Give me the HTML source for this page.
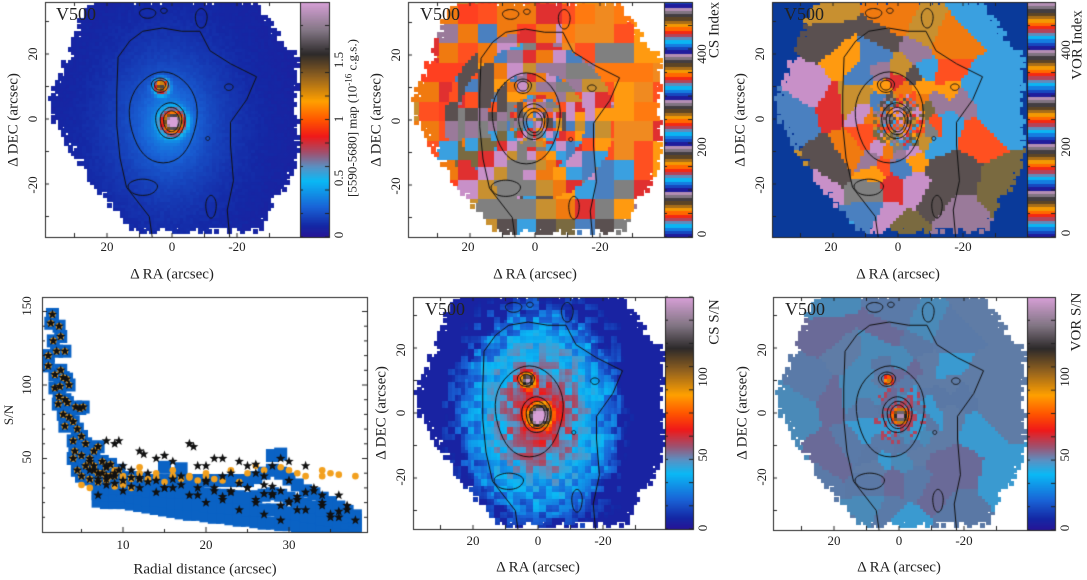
<!DOCTYPE html>
<html><head><meta charset="utf-8">
<style>
body{margin:0;background:#fff;width:1087px;height:580px;overflow:hidden;position:relative;font-family:"Liberation Serif",serif;color:#222}
canvas{position:absolute;left:0;top:0}
.t{position:absolute;font-size:13px;white-space:nowrap;transform:translate(-50%,-50%)}
.r{position:absolute;font-size:13px;white-space:nowrap;transform:translate(-50%,-50%) rotate(-90deg)}
.ax{font-size:15px}
.v5{position:absolute;font-size:18px}
sup{font-size:9px}
</style></head><body>
<canvas id="c" width="1087" height="580"></canvas>

<div class="v5" style="left:56px;top:4px">V500</div>
<div class="t" style="left:107px;top:247px">20</div>
<div class="t" style="left:172px;top:247px">0</div>
<div class="t" style="left:237px;top:247px">-20</div>
<div class="t ax" style="left:172px;top:275px">Δ RA (arcsec)</div>
<div class="r" style="left:33px;top:54px">20</div>
<div class="r" style="left:33px;top:119px">0</div>
<div class="r" style="left:33px;top:185px">-20</div>
<div class="r ax" style="left:14px;top:120px">Δ DEC (arcsec)</div>
<div class="r" style="left:339px;top:235px">0</div>
<div class="r" style="left:339px;top:178px">0.5</div>
<div class="r" style="left:339px;top:119px">1</div>
<div class="r" style="left:339px;top:60px">1.5</div>
<div class="r" style="left:352px;top:118px">[5590-5680] map (10<sup>-16</sup> c.g.s.)</div>

<div class="v5" style="left:420px;top:4px">V500</div>
<div class="t" style="left:468px;top:247px">20</div>
<div class="t" style="left:535px;top:247px">0</div>
<div class="t" style="left:600px;top:247px">-20</div>
<div class="t ax" style="left:535px;top:275px">Δ RA (arcsec)</div>
<div class="r" style="left:396px;top:55px">20</div>
<div class="r" style="left:396px;top:121px">0</div>
<div class="r" style="left:396px;top:186px">-20</div>
<div class="r ax" style="left:377px;top:120px">Δ DEC (arcsec)</div>
<div class="r" style="left:702px;top:234px">0</div>
<div class="r" style="left:702px;top:147px">200</div>
<div class="r" style="left:702px;top:54px">400</div>
<div class="r ax" style="left:715px;top:30px">CS Index</div>

<div class="v5" style="left:784px;top:4px">V500</div>
<div class="t" style="left:831px;top:247px">20</div>
<div class="t" style="left:898px;top:247px">0</div>
<div class="t" style="left:963px;top:247px">-20</div>
<div class="t ax" style="left:898px;top:275px">Δ RA (arcsec)</div>
<div class="r" style="left:760px;top:54px">20</div>
<div class="r" style="left:760px;top:119px">0</div>
<div class="r" style="left:760px;top:185px">-20</div>
<div class="r ax" style="left:741px;top:120px">Δ DEC (arcsec)</div>
<div class="r" style="left:1066px;top:233px">0</div>
<div class="r" style="left:1066px;top:147px">200</div>
<div class="r" style="left:1066px;top:50px">400</div>
<div class="r ax" style="left:1078px;top:45px">VOR Index</div>

<div class="t" style="left:123px;top:545px">10</div>
<div class="t" style="left:206px;top:545px">20</div>
<div class="t" style="left:289px;top:545px">30</div>
<div class="t ax" style="left:205px;top:570px">Radial distance (arcsec)</div>
<div class="r" style="left:27px;top:306px">150</div>
<div class="r" style="left:27px;top:385px">100</div>
<div class="r" style="left:27px;top:457px">50</div>
<div class="r" style="left:9px;top:415px">S/N</div>

<div class="v5" style="left:425px;top:299px">V500</div>
<div class="t" style="left:473px;top:541px">20</div>
<div class="t" style="left:538px;top:541px">0</div>
<div class="t" style="left:603px;top:541px">-20</div>
<div class="t ax" style="left:538px;top:568px">Δ RA (arcsec)</div>
<div class="r" style="left:401px;top:350px">20</div>
<div class="r" style="left:401px;top:413px">0</div>
<div class="r" style="left:401px;top:477px">-20</div>
<div class="r ax" style="left:382px;top:413px">Δ DEC (arcsec)</div>
<div class="r" style="left:703px;top:528px">0</div>
<div class="r" style="left:703px;top:455px">50</div>
<div class="r" style="left:703px;top:377px">100</div>
<div class="r ax" style="left:715px;top:322px">CS S/N</div>

<div class="v5" style="left:785px;top:299px">V500</div>
<div class="t" style="left:834px;top:541px">20</div>
<div class="t" style="left:899px;top:541px">0</div>
<div class="t" style="left:964px;top:541px">-20</div>
<div class="t ax" style="left:899px;top:568px">Δ RA (arcsec)</div>
<div class="r" style="left:762px;top:350px">20</div>
<div class="r" style="left:762px;top:413px">0</div>
<div class="r" style="left:762px;top:477px">-20</div>
<div class="r ax" style="left:743px;top:413px">Δ DEC (arcsec)</div>
<div class="r" style="left:1065px;top:528px">0</div>
<div class="r" style="left:1065px;top:455px">50</div>
<div class="r" style="left:1065px;top:377px">100</div>
<div class="r ax" style="left:1077px;top:322px">VOR S/N</div>

<script>
const earlyR=[1,1,1.3,1.5,1.6,1.8,1.8,2,2.3,2.5,2.5,2.4,2.3,2.2,3,2.8,3.2,3.5,3,3.3,2.8,3.5,3,4,4.3,4.8,5.2,4,4.5,5,5.5,4,4.5,5.5,6,6.5,7,6.5,7.5,8,8.5,9,4.2,5,6,7,8,5,6,7,8,9,10,11,12,6.5,7.5,8.5,9.5];
const earlySN=[113,120,142,148,130,107,98,123,140,133,110,99,92,87,123,105,104,100,90,88,80,78,72,75,85,84,85,62,70,65,60,50,42,45,50,55,58,45,48,44,46,40,55,52,48,40,38,38,36,34,36,38,35,37,36,42,40,38,42];
const blueR=[7,7,7,7,8,8,8,8,9,9,9,9,10,10,10,10,11,11,11,11,12,12,12,12,13,13,13,13,14,14,14,14,15,15,15,15,16,16,16,16,17,17,17,17,18,18,18,18,19,19,19,19,20,20,20,20,21,21,21,21,22,22,22,22,23,23,23,23,24,24,24,24,25,25,25,25,26,26,26,26,27,27,27,27,28,28,28,28,29,29,29,29,30,30,30,30,31,31,31,31,32,32,32,32,33,33,33,33,34,34,34,34,35,35,35,35,36,36,36,36,37,37,37,37,38,38,38,38,28,29,17,15];
const blueSN=[21,26,30,33,20,25,29,34,20,25,30,35,20,25,30,35,19,24,29,35,18,23,29,35,17,22,28,35,16,22,28,35,15,21,28,35,14,20,27,35,13,20,27,35,12,19,27,35,12,19,27,35,11,18,26,35,10,17,25,35,10,17,25,35,9,16,24,35,8,16,24,35,8,15,23,35,7,15,24,37,6,15,25,40,6,15,26,42,5,14,25,40,5,13,23,36,4,12,21,32,4,11,19,28,4,10,17,26,3,9,15,23,3,8,14,20,3,7,12,17,3,6,10,14,3,5,8,11,52,53,43,44];
const orangeR=[10,11,12,13,14,15,16,17,18,19,20,21,22,24,26,27,29,30,31,32,34,34,35,36,38,6,7,8,9,10,12,14,16,18,20,23,25,5,6,7,8,9,10,11,13];
const orangeSN=[38,36,40,35,37,34,38,36,37,35,38,36,35,34,45,42,44,42,40,38,42,38,40,39,38,36,40,35,42,32,44,40,42,38,40,42,40,32,30,34,38,31,33,30,36];
const starR=[7,8,9,9.5,12,12.5,14,15,16,18,18.5,19,20,21,22,23,24,25,26,27,28,29,30,32,10,11,13,14,15,17,19,20,21,22,23,25,26,27,28,29,30,31,32,33,34,35,36,37,38,8,12,16,20,24,28,33,35,37,22,26,30,34,27,29,31,36,9,11,13,15,17,19,21,23,25,27,29,31,10,14,18,22,26,30,34,12,16,20,24,28,32,36,6,7,8];
const starSN=[25,62,60,62,55,53,50,52,48,60,58,45,45,50,50,40,48,45,46,38,45,50,48,45,45,42,40,35,30,38,25,35,30,22,28,30,20,32,26,18,35,22,15,30,20,12,25,15,8,45,30,30,20,15,25,28,10,18,38,40,20,25,12,8,15,10,33,31,34,30,32,30,28,27,30,26,28,24,28,27,25,24,22,21,18,37,36,34,33,31,27,14,42,36,32];

const C=document.getElementById('c').getContext('2d');
function h(i,j,s){let n=Math.sin(i*127.1+j*311.7+s*74.7)*43758.5453;return n-Math.floor(n);}
function g(d,s){return Math.exp(-(d*d)/(s*s));}
const stops=[[0,[40,20,150]],[0.05,[20,40,165]],[0.13,[25,100,215]],[0.24,[10,185,245]],[0.3,[90,145,195]],[0.36,[160,80,110]],[0.43,[240,25,25]],[0.5,[255,85,0]],[0.58,[255,160,0]],[0.68,[150,100,30]],[0.78,[45,42,42]],[0.88,[130,118,132]],[1,[215,160,215]]];
function cmap(t){t=Math.max(0,Math.min(1,t));for(let i=1;i<stops.length;i++){if(t<=stops[i][0]){const a=stops[i-1],b=stops[i],f=(t-a[0])/(b[0]-a[0]);return 'rgb('+a[1].map((v,k)=>Math.round(v+(b[1][k]-v)*f)).join(',')+')';}}return 'rgb(215,160,215)';}
const pal=['#f07a10','#9a7a9a','#5a5050','#c89030','#3aa0e0','#ff5020','#c890c8','#808080','#e03030','#4a80c0','#ff9a10','#7a6a40'];
const poly=[[25,36],[-25.5,36],[-38.5,18],[-38.5,-15.6],[-26,-34.5],[11.4,-34.5],[24,-20],[36.6,1.2],[36.6,5.8]];
function inside(x,y){let c=false;for(let i=0,j=poly.length-1;i<poly.length;j=i++){const pi=poly[i],pj=poly[j];if(((pi[1]>y)!=(pj[1]>y))&&(x<(pj[0]-pi[0])*(y-pi[1])/(pj[1]-pi[1])+pi[0]))c=!c;}return c;}
function inMask(ra,de){return inside(ra+(h(ra,de,9)-0.5)*3,de+(h(de,ra,8)-0.5)*3);}
const S=3.25;
const panels=[
 {k:1,box:[45,2,300,237],x0:172,y0:119,cb:[300,2,329,237]},
 {k:2,box:[408,2,664,237],x0:535,y0:120,cb:[664,2,692,237]},
 {k:3,box:[772,2,1027,237],x0:898,y0:119,cb:[1027,2,1055,237]},
 {k:5,box:[413,297,665,529],x0:538,y0:413,cb:[665,297,693,529]},
 {k:6,box:[773,297,1027,530],x0:899,y0:413,cb:[1027,297,1055,530]}];
const seeds=[];const rings=[2,4.5,7,10,14,19,25,32,40],cnt=[5,9,12,14,14,12,11,10,9];
rings.forEach((r,i)=>{for(let j=0;j<cnt[i];j++){const a=(j+h(i,j,3)*0.6)/cnt[i]*6.283;const rr=r*(0.85+h(j,i,4)*0.3);seeds.push([rr*Math.cos(a)*0.85,rr*Math.sin(a)*1.05,Math.floor(h(i,j,5)*pal.length)]);}});
function nearest(ra,de){let b=1e9,c=0;for(const s of seeds){const d=(ra-s[0])*(ra-s[0])+(de-s[1])*(de-s[1]);if(d<b){b=d;c=s[2];}}return c;}
function val1(ra,de){const d=Math.hypot(ra-1.5,(de+1)/1.3),dn=Math.hypot(ra,de+0.5),ds=Math.hypot(ra-3.7,de-10.4);return 0.05+0.3*Math.exp(-d/9)+0.12*Math.exp(-d/25)+(h(ra,de,1)-0.5)*0.02+2.0*g(dn,3)+1.4*g(ds,2);}
function color(k,ra,de){
 const dn=Math.hypot(ra,de+0.5),ds=Math.hypot(ra-3.7,de-10.4),r=Math.hypot(ra,de);
 if(k==1)return cmap(val1(ra,de)/2);
 if(k==2){const cs=r<8?1.5:r<15?3:r<24?4.5:6;const i=Math.floor(ra/cs),j=Math.floor(de/cs);
   if(r>24&&ra<-8&&de>-12&&h(i,j,6)<0.85)return ['#ff9a10','#ff7a10','#ff5020','#f08a20'][Math.floor(h(i,j,7)*4)];
   if(r>28&&ra>0&&de>-22&&h(i,j,6)<0.75)return ['#ff5020','#e03030','#ff4020','#f07a10'][Math.floor(h(i,j,7)*4)];
   return pal[Math.floor(h(i,j,2)*pal.length)];}
 if(k==3){if(r<8&&(Math.floor(ra)+Math.floor(de))%2==0)return pal[Math.floor(h(Math.floor(ra),Math.floor(de),2)*pal.length)];return pal[nearest(ra,de)];}
 if(k==5){const i=Math.floor(ra/2),j=Math.floor(de/2);const e=Math.hypot(ra/0.75,de);let sn=70-e*1.55+(h(i,j,3)-0.5)*22;if(e>32)sn-=6;if(ra<-25)sn-=8;
   sn+=130*g(dn,3.2)+90*g(ds,2.2);return cmap(Math.max(6,sn)/155);}
 if(k==6){let sn=150*g(dn,3.2)+100*g(ds,2.2);
   if(dn<9&&h(Math.floor(ra),Math.floor(de),4)<0.5-dn/25)sn=Math.max(sn,58);
   if(sn>45)return cmap(sn/155);
   return ['#5a7aa8','#5a78a5','#6a6a98','#4a8ab8','#5f7ca6','#3a9ad0'][nearest(ra,de)%6];}
}
function drawMap(p){
 const [x1,y1,x2,y2]=p.box;C.save();C.beginPath();C.rect(x1,y1,x2-x1,y2-y1);C.clip();
 if(p.k==3){C.fillStyle='#0a3a9a';C.fillRect(x1,y1,x2-x1,y2-y1);}
 for(let ra=-40;ra<=40;ra++)for(let de=-38;de<=38;de++){
  if(!inMask(ra,de))continue;
  C.fillStyle=color(p.k,ra+0.5,de+0.5);
  const px=p.x0-(ra+1)*S,py=p.y0-(de+1)*S;C.fillRect(Math.floor(px),Math.floor(py),Math.ceil(S)+1,Math.ceil(S)+1);}
 const T=(a)=>[p.x0-a[0]*S,p.y0-a[1]*S];
 const line=(pts,close)=>{C.beginPath();pts.forEach((q,i)=>{const xy=T(q);i?C.lineTo(xy[0],xy[1]):C.moveTo(xy[0],xy[1]);});if(close)C.closePath();C.lineWidth=1;C.strokeStyle='#111';C.stroke();};
 line([[6,-37],[7,-30],[14,-21],[16,-12],[17,-2],[17,8],[16.6,19],[13,24],[9,27],[3,28],[-3,27],[-8.6,27],[-11.7,21],[-18,17],[-26,13],[-23,6],[-18,-1],[-18,-8],[-18.9,-19],[-17,-28],[-17.8,-37]]);
 const el=(cx,cy,a,b)=>{const pts=[];for(let i=0;i<=40;i++){const t=i/40*6.283;pts.push([cx+a*Math.cos(t)*(1+0.04*Math.sin(3*t)),cy+b*Math.sin(t)]);}line(pts,true);};
 el(2.7,0.5,10.4,14);el(0.5,-0.5,4.5,5.5);el(0.3,-0.6,3.3,4.2);el(0.2,-0.7,2.4,3.2);el(3.7,10.4,2.6,2.2);el(3.7,10.4,1.7,1.5);
 el(9,-21,4.5,2.5);el(-11,-6,0.6,0.6);el(-17.5,9.8,1.3,1);el(-12,-27,1.6,3.5);el(7.5,32.5,2.5,1.5);el(2.5,33.3,1,0.8);el(-9,31,1.8,3);
 C.restore();
 C.strokeStyle='#222';C.lineWidth=1;C.strokeRect(x1+0.5,y1+0.5,x2-x1,y2-y1);
 C.beginPath();
 for(let v=-30;v<=30;v+=10){const x=p.x0-v*S;C.moveTo(x,y2);C.lineTo(x,y2-4);C.moveTo(x,y1);C.lineTo(x,y1+4);const y=p.y0-v*S;if(y>y1&&y<y2){C.moveTo(x1,y);C.lineTo(x1+4,y);}}
 C.stroke();
 const [c1,d1,c2,d2]=p.cb;const H=d2-d1;
 for(let y=0;y<H;y++){const t=1-y/H;let col;
   if(p.k==2||p.k==3){const per=p.k==2?46:47;const f=((H-y)%per)/per;col=cmap(Math.floor(f*14)/14+0.02);}
   else col=cmap(t);
   C.fillStyle=col;C.fillRect(c1,d1+y,c2-c1,1);}
 C.strokeRect(c1+0.5,d1+0.5,c2-c1,H);
 C.beginPath();for(let y=d2;y>d1;y-=H/10){C.moveTo(c2,y);C.lineTo(c2-4,y);C.moveTo(c1,y);C.lineTo(c1+3,y);}C.stroke();
}
panels.forEach(p=>drawMap(p));

const sb=[42,297,367,532];
const sx=r=>40+r*8.3, sy=v=>532-v*1.47;
C.save();C.beginPath();C.rect(sb[0],sb[1],sb[2]-sb[0],sb[3]-sb[1]);C.clip();
C.fillStyle='#0a62c4';
const allBR=earlyR.concat(blueR),allBS=earlySN.concat(blueSN);
allBR.forEach((r,i)=>{C.fillRect(sx(r)-6.5,sy(allBS[i])-6.5,13,13);});
C.fillStyle='#f2a01e';
const allOR=earlyR.concat(orangeR),allOS=earlySN.concat(orangeSN);
allOR.forEach((r,i)=>{C.beginPath();C.arc(sx(r),sy(allOS[i]),3.3,0,6.283);C.fill();});
C.fillStyle='#111';
function star(x,y,R){C.beginPath();for(let i=0;i<10;i++){const a=-Math.PI/2+i*Math.PI/5,rr=i%2?R*0.42:R;C.lineTo(x+rr*Math.cos(a),y+rr*Math.sin(a));}C.closePath();C.fill();}
const allSR=earlyR.concat(starR),allSS=earlySN.concat(starSN);
allSR.forEach((r,i)=>{star(sx(r),sy(allSS[i]),5);});
C.restore();
C.strokeStyle='#222';C.strokeRect(sb[0]+0.5,sb[1]+0.5,sb[2]-sb[0],sb[3]-sb[1]);
C.beginPath();
for(let r=5;r<=35;r+=5){const x=sx(r);C.moveTo(x,sb[3]);C.lineTo(x,sb[3]-(r%10?3:5));}
for(let v=10;v<=150;v+=10){const y=sy(v);const l=v%50?3:5;C.moveTo(sb[0],y);C.lineTo(sb[0]+l,y);C.moveTo(sb[2],y);C.lineTo(sb[2]-l,y);}
C.stroke();
</script>
</body></html>
